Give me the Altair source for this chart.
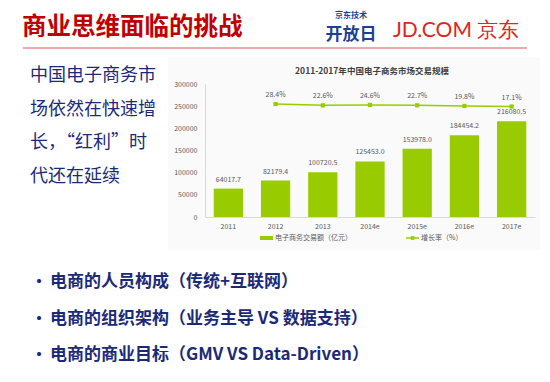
import altair as alt
import pandas as pd

# ---- data ----
years = ["2011", "2012", "2013", "2014e", "2015e", "2016e", "2017e"]
gmv = [64017.7, 82179.4, 100720.5, 125453.0, 153978.0, 184454.2, 216080.5]
rate_years = ["2012", "2013", "2014e", "2015e", "2016e", "2017e"]
rates = [28.4, 22.6, 24.6, 22.7, 19.8, 17.1]
y_ticks = [0, 50000, 100000, 150000, 200000, 250000, 300000]

slide_title = "商业思维面临的挑战"
paragraph = ["中国电子商务市", "场依然在快速增", "长，“红利”时", "代还在延续"]
bullets = [
    "电商的人员构成（传统+互联网）",
    "电商的组织架构（业务主导 VS 数据支持）",
    "电商的商业目标（GMV VS Data-Driven）",
]
chart_title = "2011-2017年中国电子商务市场交易规模"
legend_bar = "电子商务交易额（亿元）"
legend_line = "增长率（%）"

bar_df = pd.DataFrame({"year": years, "gmv": gmv})
rate_df = pd.DataFrame({"year": rate_years, "rate": rates})

CJK = "Noto Sans CJK SC"
GREEN = "#99CC00"
GREY = "#595959"
NAVY = "#1B2A78"

# origin of the plot area is at page (205, 84); page margin 8
OX, OY = 205, 84

one = pd.DataFrame({"a": [0]})


def txt(s, px, py, size, color, weight="normal", align="left", font=CJK):
    return alt.Chart(one).mark_text(
        text=s, fontSize=size, color=color, fontWeight=weight, align=align,
        baseline="middle", font=font,
    ).encode(x=alt.value(px - OX), y=alt.value(py - OY))


x_axis = alt.Axis(title=None, labelAngle=0, ticks=False, domainColor="#D9D9D9",
                  labelPadding=5, labelFontSize=7, labelColor=GREY, labelFont=CJK,
                  grid=False, zindex=1)
x_scale = alt.Scale(paddingInner=0.38, paddingOuter=0.185)
xenc = alt.X("year:N", sort=years, scale=x_scale, axis=x_axis)

y_axis = alt.Axis(title=None, values=y_ticks, format="d", grid=False, ticks=False,
                  domainColor="#D9D9D9", labelColor=GREY, labelFontSize=7,
                  labelPadding=8, labelFont=CJK, zindex=1)
yenc = alt.Y("gmv:Q", scale=alt.Scale(domain=[0, 300000]), axis=y_axis)

bg = alt.Chart(one).mark_rect(color="#FAFAFA").encode(
    x=alt.value(168 - OX), x2=alt.value(540 - OX), y=alt.value(57 - OY), y2=alt.value(250 - OY))

bars = alt.Chart(bar_df).mark_bar(color=GREEN).encode(x=xenc, y=yenc)
bar_labels = alt.Chart(bar_df).transform_calculate(
    lab="format(datum.gmv, '.1f')"
).mark_text(dy=-9, fontSize=7, color=GREY, font=CJK, baseline="middle").encode(
    x=xenc, y=yenc, text="lab:N",
)
bar_layer = alt.layer(bars, bar_labels)

ry = alt.Y("rate:Q", scale=alt.Scale(domain=[-482, 119]), axis=None)
line = alt.Chart(rate_df).mark_line(color=GREEN, strokeWidth=1.5).encode(x=xenc, y=ry)
pts = alt.Chart(rate_df).mark_point(shape="square", filled=True, size=18, color=GREEN,
                                    opacity=1).encode(x=xenc, y=ry)
rate_labels = alt.Chart(rate_df).transform_calculate(
    lab="format(datum.rate, '.1f') + '%'"
).mark_text(dy=-9, fontSize=7, color=GREY, font=CJK, baseline="middle").encode(
    x=xenc, y=ry, text="lab:N")
line_layer = alt.layer(line, pts, rate_labels)

# legend (drawn by hand)
leg_bar = alt.Chart(one).mark_rect(color=GREEN).encode(
    x=alt.value(260 - OX), x2=alt.value(273 - OX), y=alt.value(236 - OY), y2=alt.value(240 - OY))
leg_line = alt.Chart(one).mark_rule(color=GREEN, strokeWidth=1.5).encode(
    x=alt.value(406 - OX), x2=alt.value(419 - OX), y=alt.value(238 - OY))
leg_pt = alt.Chart(one).mark_point(shape="square", filled=True, size=14, color=GREEN,
                                   opacity=1).encode(x=alt.value(412.5 - OX), y=alt.value(238 - OY))

# slide decorations
red_rule = alt.Chart(one).mark_rule(color="#E0505A", strokeWidth=1).encode(
    x=alt.value(23 - OX), x2=alt.value(527 - OX), y=alt.value(48 - OY))

layers = [
    bg, bar_layer, line_layer, leg_bar, leg_line, leg_pt,
    txt(legend_bar, 275, 238, 7, GREY),
    txt(legend_line, 421, 238, 7, GREY),
    txt(chart_title, 372, 71, 8.5, "#404040", weight="bold", align="center"),
    red_rule,
    txt(slide_title, 22, 28, 24.5, "#C00000", weight="bold"),
    txt("京东技术", 351, 16, 8, "#1C3F94", weight="bold", align="center"),
    txt("开放日", 351, 35, 17, "#1C3F94", weight="bold", align="center"),
    txt("JD.COM 京东", 393, 31, 21, "#E1251B", font="Lato"),
]
for i, s in enumerate(paragraph):
    layers.append(txt(s, 30, 76 + i * 33.5, 18, NAVY))
for i, s in enumerate(bullets):
    yy = 282 + i * 36.5
    layers.append(txt("•", 31, yy, 16, NAVY, weight="bold"))
    layers.append(txt(s, 50, yy, 17, NAVY, weight="bold"))

chart = alt.layer(*layers).resolve_scale(y="independent").properties(
    width=330, height=133,
    autosize=alt.AutoSizeParams(type="none"),
    padding={"left": OX - 8, "top": OY - 8, "right": 7, "bottom": 152},
).configure_view(stroke=None).configure(font=CJK)

chart.save("out.html", embed_options={"renderer": "svg", "actions": False})
